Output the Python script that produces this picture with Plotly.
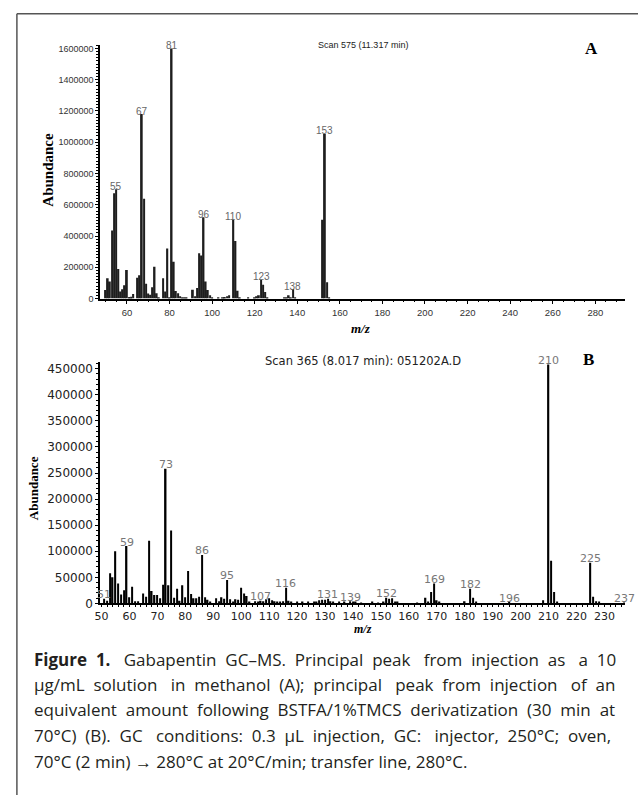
import plotly.graph_objects as go

W, H = 638, 795
def px(x):
    return x / W
def py(y):
    return 1 - y / H

# ---------------- Panel A data ----------------
A_mz = [50, 51, 52, 53, 54, 55, 56, 57, 58, 59, 60, 61, 62, 63, 65, 66, 67, 68, 69, 70,
        71, 72, 73, 74, 75, 77, 78, 79, 80, 81, 82, 83, 84, 85, 86, 87, 88, 91, 92, 93,
        94, 95, 96, 97, 98, 99, 100, 103, 105, 106, 107, 108, 110, 111, 112, 113, 117, 120,
        121, 122, 123, 124, 125, 126, 134, 135, 136, 137, 138, 139, 152, 153, 154, 155]
A_ab = [55000, 130000, 110000, 435000, 674000, 700000, 190000, 45000, 60000, 85000,
        183000, 10000, 12000, 30000, 133000, 150000, 1180000, 638000, 95000, 32000,
        25000, 72000, 204000, 35000, 5000, 130000, 46000, 320000, 5000, 1600000,
        236000, 48000, 35000, 15000, 8000, 6000, 4000, 57000, 15000, 67000,
        290000, 275000, 520000, 110000, 55000, 22000, 5000, 4000, 8000, 10000,
        15000, 22000, 505000, 368000, 50000, 5000, 3000, 5000,
        15000, 22000, 120000, 88000, 42000, 8000, 5000, 8000, 22000, 5000, 61000, 5000,
        505000, 1053000, 105000, 8000]
A_labels = [55, 67, 81, 96, 110, 123, 138, 153]
A_xticks = list(range(60, 281, 20))
A_yticks = list(range(0, 1600001, 200000))

# ---------------- Panel B data ----------------
B_mz = [51, 52, 53, 54, 55, 56, 57, 58, 59, 60, 61, 62, 63, 65, 66, 67, 68, 69, 70, 71,
        72, 73, 74, 75, 76, 77, 78, 79, 80, 81, 82, 83, 84, 85, 86, 87, 88, 89, 91, 92,
        93, 94, 95, 96, 97, 98, 99, 100, 101, 102, 103, 105, 106, 107, 108, 109, 110, 111,
        112, 113, 114, 115, 116, 117, 118, 120, 122, 124, 126, 127, 128, 129, 130, 131,
        132, 133, 135, 137, 139, 140, 141, 143, 147, 149, 151, 152, 153, 154, 155, 156,
        163, 166, 167, 168, 169, 170, 171, 180, 182, 183, 184, 196, 208, 210, 211, 212,
        213, 225, 226, 227, 228, 237]
B_ab = [9000, 5000, 58000, 50000, 100000, 38000, 17000, 25000, 110000, 12000, 32000, 4000,
        4000, 19000, 13000, 120000, 24000, 16000, 16000, 10000,
        36000, 258000, 35000, 140000, 11000, 28000, 5000, 35000, 12000, 62000, 18000, 10000,
        10000, 13000, 93000, 12000, 7000, 3000, 10000, 4000,
        12000, 9000, 45000, 8000, 2000, 8000, 7000, 30000, 19000, 14000, 3000, 4000, 3000,
        5000, 4000, 8000, 10000, 6000,
        4000, 3000, 2000, 4000, 30000, 5000, 2000, 2000, 2000, 2000, 3000, 3000, 6000, 7000,
        7000, 9000,
        4000, 2000, 2000, 3000, 4000, 3000, 2000, 1500, 2000, 1500, 2000, 11000, 9000, 10000,
        3000, 2000,
        1500, 11000, 3000, 22000, 38000, 6000, 2000, 4000, 28000, 11000, 3000, 2000, 6000,
        458000, 82000, 22000,
        3000, 78000, 13000, 4000, 2000, 1500]
B_labels = [51, 59, 73, 86, 95, 107, 116, 131, 139, 152, 169, 182, 196, 210, 225, 237]
B_xticks = list(range(50, 231, 10))
B_yticks = list(range(0, 450001, 50000))

caption_lines = [
    "<b>Figure 1.</b> Gabapentin GC\u2013MS. Principal peak from injection as a 10",
    "\u00b5g/mL solution in methanol (A); principal peak from injection of an",
    "equivalent amount following BSTFA/1%TMCS derivatization (30 min at",
    "70\u00b0C) (B). GC conditions: 0.3 \u00b5L injection, GC: injector, 250\u00b0C; oven,",
    "70\u00b0C (2 min) \u2192 280\u00b0C at 20\u00b0C/min; transfer line, 280\u00b0C.",
]
caption_y = [665, 690, 716, 742, 768]
# extra space (in no-break spaces) spread over the gaps to imitate justified text
caption_pad = [13, 13, 7, 12, 0]


def justify(line, n_extra):
    words = line.split(" ")
    gaps = len(words) - 1
    if gaps <= 0 or n_extra <= 0:
        return line
    out = words[0]
    done = 0
    for i in range(1, len(words)):
        target = round(n_extra * i / gaps)
        k = target - done
        done = target
        out += " " + "\u00a0" * k + words[i]
    return out


fig = go.Figure()
fig.add_trace(go.Bar(x=A_mz, y=A_ab, width=0.8, marker=dict(color="#1e1e1e", line=dict(width=0)),
                     xaxis="x", yaxis="y", showlegend=False, hoverinfo="x+y"))
fig.add_trace(go.Bar(x=B_mz, y=B_ab, width=0.5, marker=dict(color="#000000", line=dict(width=0)),
                     xaxis="x2", yaxis="y2", showlegend=False, hoverinfo="x+y"))

annotations = []
ab_a = dict(zip(A_mz, A_ab))
for m in A_labels:
    annotations.append(dict(x=m, y=ab_a[m], xref="x", yref="y", text=str(m), showarrow=False,
                            yanchor="middle", yshift=3,
                            font=dict(family="Liberation Sans, Arial", size=10, color="#666")))
ab_b = dict(zip(B_mz, B_ab))
for m in B_labels:
    annotations.append(dict(x=m, y=ab_b[m], xref="x2", yref="y2", text=str(m), showarrow=False,
                            yanchor="middle", yshift=4,
                            font=dict(family="DejaVu Sans", size=11, color="#777")))

def ann(x, y, text, **kw):
    d = dict(x=px(x), y=py(y), xref="paper", yref="paper", text=text, showarrow=False,
             xanchor="center", yanchor="middle")
    d.update(kw)
    annotations.append(d)

ann(360, 43, "Scan 575 (11.317 min)", font=dict(family="Liberation Sans, Arial", size=9, color="#222"))
ann(360, 363, "Scan 365 (8.017 min): 051202A.D", font=dict(family="DejaVu Sans", size=11.5, color="#222"))
ann(591, 47, "<b>A</b>", font=dict(family="Liberation Serif, Times New Roman", size=17, color="#000"))
ann(588, 362, "<b>B</b>", font=dict(family="Liberation Serif, Times New Roman", size=17, color="#000"))
ann(42, 170, "<b>Abundance</b>", textangle=-90,
    font=dict(family="Liberation Serif, Times New Roman", size=15, color="#000"))
ann(28, 492, "<b>Abundance</b>", textangle=-90,
    font=dict(family="Liberation Serif, Times New Roman", size=13, color="#000"))
ann(358, 330, "<b><i>m/z</i></b>", font=dict(family="Liberation Serif, Times New Roman", size=13, color="#000"))
ann(360, 634, "<b><i>m/z</i></b>", font=dict(family="Liberation Serif, Times New Roman", size=12, color="#000"))

for line, yy, pad in zip(caption_lines, caption_y, caption_pad):
    ann(26, yy, justify(line, pad), xanchor="left",
        font=dict(family="Open Sans, Liberation Sans, Arial", size=17, color="#231f20"))

axis_common = dict(showline=True, linecolor="#000", linewidth=1.5, ticks="outside", tickcolor="#000",
                   showgrid=False, zeroline=False, mirror=False)

fig.update_layout(
    width=W, height=H, margin=dict(l=0, r=0, t=0, b=0),
    paper_bgcolor="white", plot_bgcolor="white",
    barmode="overlay",
    xaxis=dict(domain=[px(95), px(625)], range=[47.4, 294], anchor="y",
               tickvals=A_xticks, ticklen=4, tickwidth=1,
               minor=dict(dtick=5, tick0=0, ticks="outside", ticklen=2, tickcolor="#000"),
               tickfont=dict(family="Liberation Sans, Arial", size=9.5, color="#333"),
               **axis_common),
    yaxis=dict(domain=[py(300), py(43.8)], range=[0, 1620000], anchor="x",
               tickvals=A_yticks, tickformat="d", ticklen=3, tickwidth=1,
               minor=dict(dtick=20000, tick0=0, ticks="outside", ticklen=2, tickcolor="#000"),
               tickfont=dict(family="Liberation Sans, Arial", size=9, color="#333"),
               **axis_common),
    xaxis2=dict(domain=[px(95), px(625)], range=[49.5, 237.4], anchor="y2",
                tickvals=B_xticks, ticklen=2, tickwidth=1,
                minor=dict(dtick=2, tick0=0, ticks="outside", ticklen=2, tickcolor="#000"),
                tickfont=dict(family="DejaVu Sans", size=11, color="#222"),
                **axis_common),
    yaxis2=dict(domain=[py(608.3), py(364.6)], range=[0, 462000], anchor="x2",
                tickvals=B_yticks, tickformat="d", ticklen=3, tickwidth=1,
                minor=dict(dtick=10000, tick0=0, ticks="outside", ticklen=2, tickcolor="#000"),
                tickfont=dict(family="DejaVu Sans", size=12, color="#222"),
                **axis_common),
    annotations=annotations,
    shapes=[
        dict(type="line", xref="paper", yref="paper", x0=px(11), x1=1.02, y0=py(12), y1=py(12),
             line=dict(color="#555", width=1.5)),
        dict(type="line", xref="paper", yref="paper", x0=px(11), x1=px(11), y0=py(12), y1=-0.02,
             line=dict(color="#555", width=1.5)),
    ],
)

fig.write_html("out.html")
